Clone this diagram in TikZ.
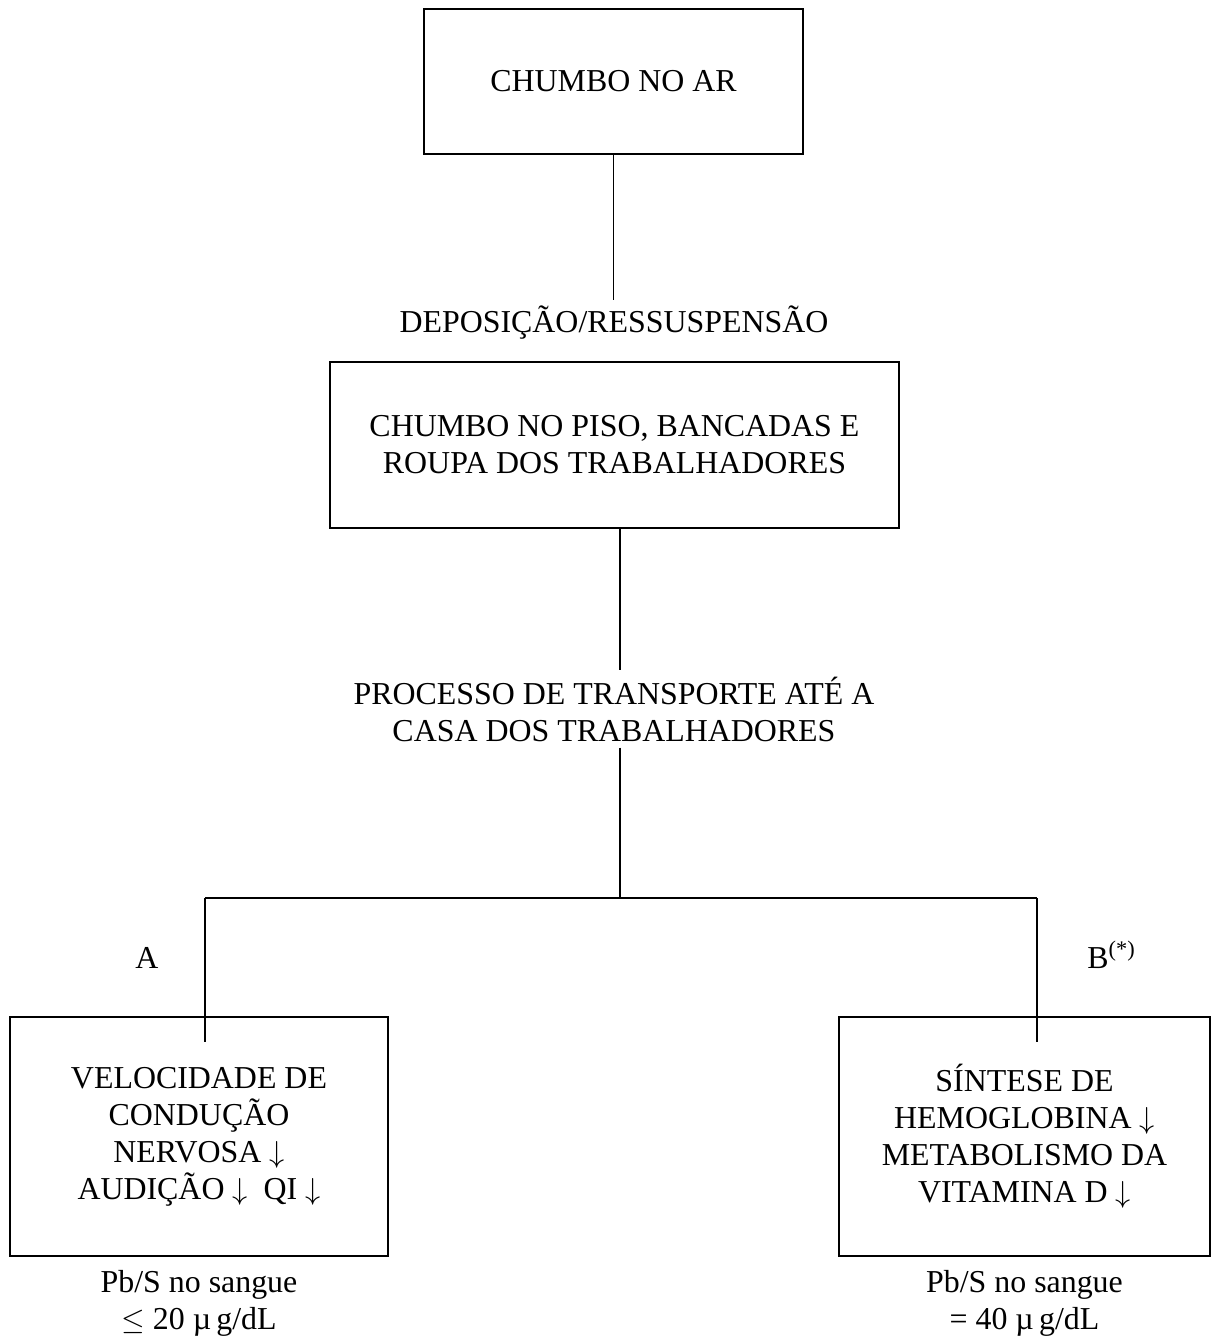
\documentclass[tikz,border=0pt]{standalone}
\usepackage{fontspec}
\setmainfont{Liberation Serif}
\usetikzlibrary{positioning}

\newcommand{\diagfont}{\fontsize{18.15pt}{21.06pt}\selectfont}
\newcommand{\dn}{$\downarrow$}

\begin{document}
\begin{tikzpicture}[
        box/.style={rectangle, draw=black, line width=0.95pt,
            align=center, font=\diagfont},
        lbl/.style={align=center, font=\diagfont},
        link/.style={line width=0.85pt}
      ]
      \useasboundingbox (0,0) rectangle (24.32,-26.72);

      % Source and deposition
      \node[box, minimum width=7.58cm, minimum height=2.9cm] at (12.27,-1.63) (air) {CHUMBO NO AR};
      \node[lbl] at (12.28,-6.46) (dep) {DEPOSIÇÃO/RESSUSPENSÃO};
      \node[box, minimum width=11.38cm, minimum height=3.32cm] at (12.29,-8.9) (floor)
          {CHUMBO NO PISO, BANCADAS E\\ROUPA DOS TRABALHADORES};

      % Transport to the workers' homes
      \node[lbl] at (12.28,-14.18) (transp) {PROCESSO DE TRANSPORTE ATÉ A\\CASA DOS TRABALHADORES};

      % Effects — two branches
      \node[box, minimum width=7.57cm, minimum height=4.78cm] at (3.98,-22.73) (nerve)
          {VELOCIDADE DE\\CONDUÇÃO\\NERVOSA \dn\\AUDIÇÃO \dn\ \ QI \dn};
      \node[box, minimum width=7.42cm, minimum height=4.78cm] at (20.49,-22.73) (blood)
          {SÍNTESE DE\\HEMOGLOBINA \dn\\METABOLISMO DA\\VITAMINA D \dn};
      \node[lbl, anchor=base] at (2.94,-19.36) (tagA) {A};
      \node[lbl, anchor=base] at (22.23,-19.36) (tagB) {B\textsuperscript{(*)}};
      \node[lbl] at (3.98,-26.07) (pbA) {Pb/S no sangue\\$\leq$ 20 µ\,g/dL};
      \node[lbl] at (20.49,-26.07) (pbB) {Pb/S no sangue\\= 40 µ\,g/dL};

      % T-junction at y=-17.96, branch ends run into the box tops
      \coordinate (jM) at (12.4,-17.96);
      \coordinate (jL) at (4.1,-17.96);
      \coordinate (jR) at (20.74,-17.96);
      \coordinate (endL) at (4.1,-20.84);
      \coordinate (endR) at (20.74,-20.84);

      \draw[link] (air.south) -- (air.south |- dep.north);
      \draw[link] (floor.south -| jM) -- (transp.north -| jM);
      \draw[link] (transp.south -| jM) -- (jM);
      \draw[link] (jL) -- (jR);
      \draw[link] (jL) -- (endL);
      \draw[link] (jR) -- (endR);
    \end{tikzpicture}
\end{document}
